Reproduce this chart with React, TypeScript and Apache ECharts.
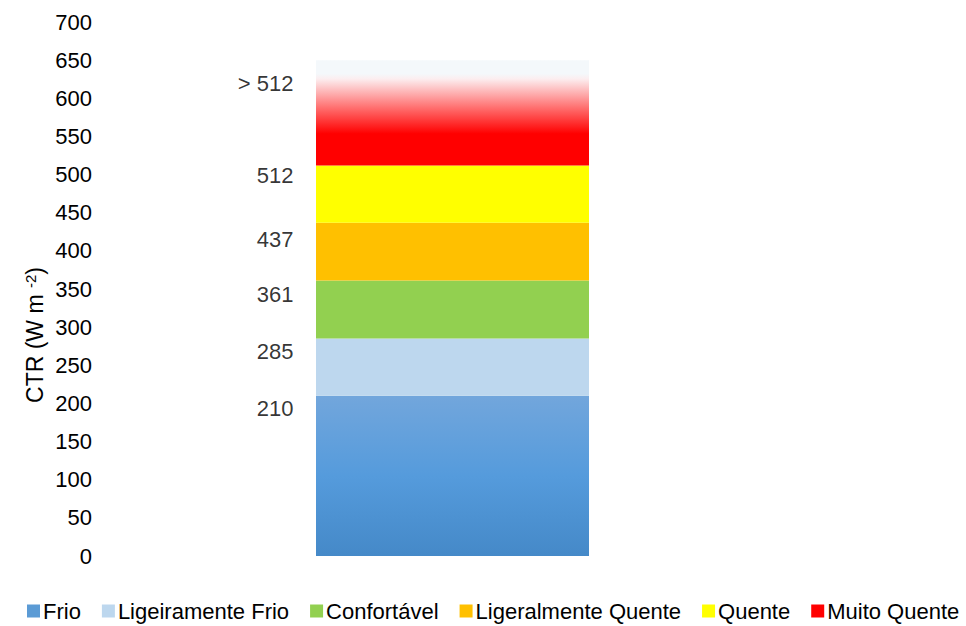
import React, { useEffect, useRef } from "react";
import * as echarts from "echarts";

const categories = ["CTR"];
const seriesNames = ["Frio", "Ligeiramente Frio", "Confortável", "Ligeralmente Quente", "Quente", "Muito Quente"];
const seriesValues = [210, 75, 76, 76, 75, 138];
const classLabels = ["210", "285", "361", "437", "512", "> 512"];
const classLabelValues = [193, 268, 343, 415, 499, 620];
const yTicks = { min: 0, max: 700, interval: 50 };

const FONT = "'Liberation Sans', Arial, sans-serif";
const FS = 22;

const colors: any[] = [
  new echarts.graphic.LinearGradient(0, 0, 0, 1, [
    { offset: 0, color: "#72A6DC" },
    { offset: 0.5, color: "#559BDC" },
    { offset: 1, color: "#4589C8" },
  ]),
  "#BDD7EE",
  "#92D050",
  "#FFC000",
  "#FFFF00",
  new echarts.graphic.LinearGradient(0, 0, 0, 1, [
    { offset: 0, color: "#F4F8FB" },
    { offset: 0.13, color: "#F4F8FB" },
    { offset: 0.18, color: "#FCEDEF" },
    { offset: 0.45, color: "#FF7070" },
    { offset: 0.7, color: "#FF0000" },
    { offset: 1, color: "#FF0000" },
  ]),
];
const legendColors = ["#5B9BD5", "#BDD7EE", "#92D050", "#FFC000", "#FFFF00", "#FF0000"];

export default function App() {
  const ref = useRef<HTMLDivElement>(null);
  useEffect(() => {
    document.body.style.margin = "0";
    document.body.style.overflow = "hidden";
    if (!ref.current) return;
    const chart = echarts.init(ref.current, null, { renderer: "svg" });
    const barSeries = seriesNames.map((name, i) => ({
      name,
      type: "bar",
      stack: "total",
      barWidth: 273,
      data: [seriesValues[i]],
      itemStyle: { color: colors[i] },
      emphasis: { disabled: true },
    }));
    chart.setOption({
      animation: false,
      textStyle: { fontFamily: FONT },
      grid: { left: 102, right: 163, top: 22, bottom: 70, containLabel: false },
      legend: {
        top: 600,
        left: 27,
        right: 0,
        padding: 0,
        itemWidth: 13,
        itemHeight: 13,
        itemGap: 21,
        icon: "rect",
        textStyle: { fontSize: FS, color: "#000", fontFamily: FONT, padding: [0, 0, 0, -2] },
        data: seriesNames.map((n, i) => ({ name: n, itemStyle: { color: legendColors[i] } })),
      },
      xAxis: {
        type: "category",
        data: categories,
        show: false,
      },
      yAxis: {
        type: "value",
        min: yTicks.min,
        max: yTicks.max,
        interval: yTicks.interval,
        axisLine: { show: false },
        axisTick: { show: false },
        splitLine: { show: false },
        axisLabel: { fontSize: FS, color: "#000", margin: 10, fontFamily: FONT },
      },
      graphic: [
        {
          type: "text",
          x: 35,
          y: 335,
          rotation: Math.PI / 2,
          style: {
            text: "{a|CTR (W m }{s|-2}{a|)}",
            align: "center",
            verticalAlign: "middle",
            rich: {
              a: { fontSize: 23, fontFamily: FONT, fill: "#000" },
              s: { fontSize: 15, fontFamily: FONT, fill: "#000", verticalAlign: "top", padding: [0, 0, 10, 0] },
            },
          },
        },
      ],
      series: [
        ...barSeries,
        {
          name: "labels",
          type: "scatter",
          symbolSize: 0,
          silent: true,
          data: classLabelValues.map((v, i) => ({ value: [0, v], label: { formatter: classLabels[i] } })),
          label: {
            show: true,
            position: "left",
            distance: 159,
            fontSize: FS,
            color: "#000",
            fontFamily: FONT,
          },
        },
      ],
    });
    return () => chart.dispose();
  }, []);
  return <div ref={ref} style={{ width: 966, height: 626 }} />;
}
